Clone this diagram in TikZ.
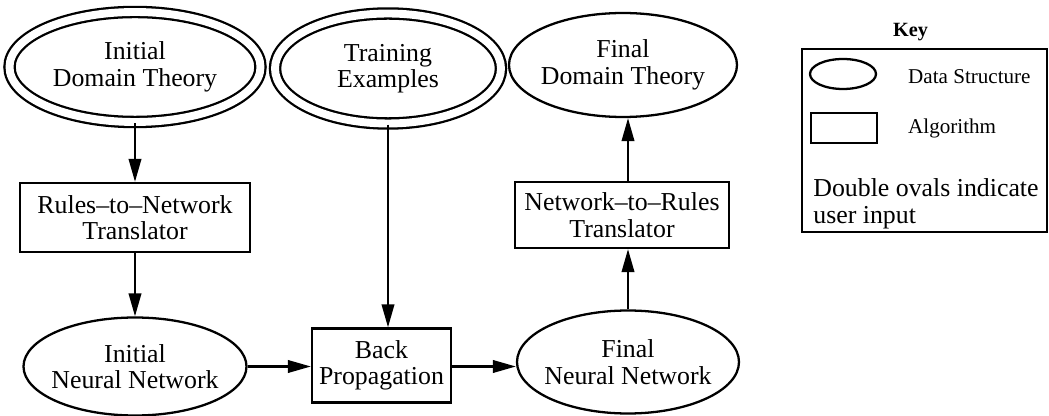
\documentclass[tikz,border=0pt]{standalone}
\usepackage{fontspec}
\setmainfont{Liberation Serif}
\usetikzlibrary{positioning, shapes.geometric, arrows.meta}

\begin{document}
\begin{tikzpicture}[
          datastruct/.style={ellipse, draw, line width=1.3pt, inner xsep=-0.2cm, inner ysep=0pt, align=center, font=\fontsize{14.7}{15}\selectfont},
          userinput/.style={datastruct, double, double distance=4.5pt},
          algo/.style={rectangle, draw, line width=1.3pt, inner sep=0pt, align=center, font=\fontsize{14.7}{15}\selectfont},
          arrow/.style={->, >={Triangle[length=0.46cm, width=0.25cm]}, line width=1.3pt},
          keytext/.style={anchor=west, font=\fontsize{12}{14}\selectfont}
        ]
          \useasboundingbox (0,0) rectangle (20.98,-8.32);

          % Inputs
          \node[userinput, minimum width=5.02cm, minimum height=2.2cm] (idt) at (2.70,-1.34) {Initial\\Domain Theory};
          \node[userinput, minimum width=4.52cm, minimum height=2.2cm] (te) at (7.76,-1.37) {Training\\Examples};

          % Output
          \node[datastruct, minimum width=4.56cm, minimum height=2.08cm] (fdt) at (12.46,-1.30) {Final\\Domain Theory};

          % Translators
          \node[algo, minimum width=4.6cm, minimum height=1.38cm] (rtn) at (2.70,-4.35) {Rules--to--Network\\Translator};
          \node[algo, minimum width=4.28cm, minimum height=1.32cm] (ntr) at (12.44,-4.30) {Network--to--Rules\\Translator};

          % Networks and training
          \node[datastruct, minimum width=4.46cm, minimum height=1.96cm] (inn) at (2.70,-7.33) {Initial\\Neural Network};
          \node[algo, minimum width=2.78cm, minimum height=1.48cm] (bp) at (7.63,-7.31) {Back\\Propagation};
          \node[datastruct, minimum width=4.44cm, minimum height=2.06cm] (fnn) at (12.56,-7.24) {Final\\Neural Network};

          % Arrows
          \draw[arrow] (idt.south) -- (rtn.north);
          \draw[arrow] (rtn.south) -- (inn.north);
          \draw[arrow] (te.south) -- (te.south |- bp.north);
          \draw[arrow] (inn.east) -- (inn.east -| bp.west);
          \draw[arrow] (bp.east |- inn.east) -- (inn.east -| fnn.west);
          \draw[arrow] (fnn.north) -- (fnn.north |- ntr.south);
          \draw[arrow] (ntr.north -| fnn.north) -- (fnn.north |- fdt.south);

          % Key
          \node[font=\fontsize{11.5}{13}\selectfont\bfseries] (keytitle) at (18.21,-0.64) {Key};
          \node[draw, line width=1.3pt, minimum width=4.9cm, minimum height=3.66cm, inner sep=0pt] (keybox) at (18.49,-2.81) {};
          \node[ellipse, draw, line width=1.3pt, minimum width=1.32cm, minimum height=0.6cm, inner sep=0pt] (keyoval) at (16.86,-1.48) {};
          \node[keytext] (keyds) at (18.04,-1.54) {Data Structure};
          \node[draw, line width=1.3pt, minimum width=1.32cm, minimum height=0.6cm, inner sep=0pt] (keyrect) at (16.88,-2.56) {};
          \node[keytext] (keyalg) at (18.04,-2.56) {Algorithm};
          \node[anchor=west, align=left, inner sep=0pt, font=\fontsize{14.7}{15.4}\selectfont] (keynote) at (16.26,-4.07) {Double ovals indicate\\user input};
        \end{tikzpicture}
\end{document}
